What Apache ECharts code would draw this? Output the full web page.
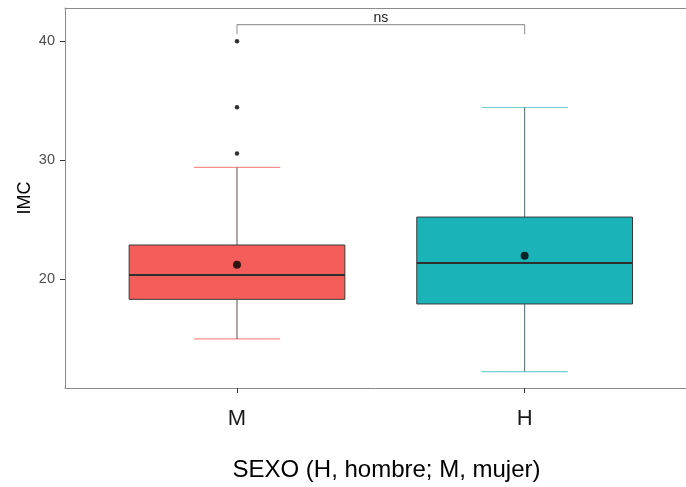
<!DOCTYPE html>
<html>
<head>
<meta charset="utf-8">
<script src="https://cdn.jsdelivr.net/npm/echarts@6/dist/echarts.min.js"></script>
<style>
html,body{margin:0;padding:0;background:#fff;}
#c{width:686px;height:487px;}
</style>
</head>
<body>
<div id="c"></div>
<script>
// ---- data ----
const categories = ['M', 'H'];
const xPos = [1, 2];
const whiskerLow = [14.96, 12.21];
const q1 = [18.29, 17.90];
const median = [20.34, 21.34];
const q3 = [22.86, 25.21];
const whiskerHigh = [29.39, 34.43];
const means = [21.2, 21.96];
const outlierX = [1, 1, 1];
const outlierY = [30.56, 34.45, 40.0];
const yTicks = [20, 30, 40];
const bracket = { x1: 1, x2: 2, y: 41.4, tip: 40.6, label: 'ns' };

// ---- styles ----
const fillColors = ['#F35E5A', '#1AB3B7'];
const capColors = ['#F4918E', '#6FD0D3'];
const whiskerColors = ['#6f5e5e', '#5d7575'];
const xMin = 0.402, xMax = 2.561;
const borderColor = '#8a8a8a';
const font = 'Liberation Sans, Arial, sans-serif';

const boxData = xPos.map((x, i) => [x, whiskerLow[i], q1[i], median[i], q3[i], whiskerHigh[i], i]);
const meanData = xPos.map((x, i) => [x, means[i]]);
const outlierData = outlierX.map((x, i) => [x, outlierY[i]]);
const bracketData = [[bracket.x1, bracket.tip], [bracket.x1, bracket.y], [bracket.x2, bracket.y], [bracket.x2, bracket.tip]];

function renderBox(params, api) {
  const x = api.value(0);
  const idx = api.value(6);
  const pLow = api.coord([x, api.value(1)]);
  const pQ1 = api.coord([x, api.value(2)]);
  const pMed = api.coord([x, api.value(3)]);
  const pQ3 = api.coord([x, api.value(4)]);
  const pHigh = api.coord([x, api.value(5)]);
  const bw = api.size([0.75, 0])[0];
  const cw = api.size([0.3, 0])[0];
  const cx = pMed[0];
  return {
    type: 'group',
    children: [
      { type: 'line', shape: { x1: cx - cw / 2, y1: pLow[1], x2: cx + cw / 2, y2: pLow[1] }, style: { stroke: capColors[idx], lineWidth: 1.2 } },
      { type: 'line', shape: { x1: cx - cw / 2, y1: pHigh[1], x2: cx + cw / 2, y2: pHigh[1] }, style: { stroke: capColors[idx], lineWidth: 1.2 } },
      { type: 'line', shape: { x1: cx, y1: pLow[1], x2: cx, y2: pQ1[1] }, style: { stroke: whiskerColors[idx], lineWidth: 1.1 } },
      { type: 'line', shape: { x1: cx, y1: pQ3[1], x2: cx, y2: pHigh[1] }, style: { stroke: whiskerColors[idx], lineWidth: 1.1 } },
      { type: 'rect', shape: { x: cx - bw / 2, y: pQ3[1], width: bw, height: pQ1[1] - pQ3[1] }, style: { fill: fillColors[idx], stroke: '#3a3a3a', lineWidth: 1 } },
      { type: 'line', shape: { x1: cx - bw / 2, y1: pMed[1], x2: cx + bw / 2, y2: pMed[1] }, style: { stroke: '#2f2f2f', lineWidth: 2 } }
    ]
  };
}

const chart = echarts.init(document.getElementById('c'), null, { renderer: 'canvas' });
chart.setOption({
  animation: false,
  backgroundColor: '#fff',
  textStyle: { fontFamily: font },
  grid: { left: 65, top: 8, right: 0, bottom: 99, show: false },
  xAxis: [{
    type: 'value', min: xMin, max: xMax,
    splitLine: { show: false },
    axisLine: { show: true, lineStyle: { color: borderColor, width: 1 } },
    axisTick: { show: true, customValues: xPos, length: 5, lineStyle: { color: '#333' } },
    axisLabel: {
      customValues: xPos, margin: 20,
      formatter: v => categories[xPos.indexOf(v)] || '',
      color: '#1a1a1a', fontSize: 22, fontFamily: font
    },
    name: 'SEXO (H, hombre; M, mujer)',
    nameLocation: 'middle', nameGap: 70, nameMoveOverlap: false,
    nameTextStyle: { color: '#000', fontSize: 24, fontFamily: font, padding: [0, 0, 0, 22] }
  }, {
    type: 'value', min: xMin, max: xMax, position: 'top',
    splitLine: { show: false },
    axisLine: { show: true, lineStyle: { color: borderColor, width: 1 } },
    axisTick: { show: false }, axisLabel: { show: false }
  }],
  yAxis: {
    type: 'value', min: 10.83, max: 42.8,
    splitLine: { show: false },
    axisLine: { show: true, lineStyle: { color: borderColor, width: 1 } },
    axisTick: { show: true, customValues: yTicks, length: 5, lineStyle: { color: '#333' } },
    axisLabel: {
      customValues: yTicks, margin: 10,
      color: '#4d4d4d', fontSize: 14.5, fontFamily: font
    },
    name: 'IMC',
    nameLocation: 'middle', nameGap: 31, nameRotate: 90, nameMoveOverlap: false,
    nameTextStyle: { color: '#000', fontSize: 18, fontFamily: font }
  },
  series: [
    {
      type: 'custom', renderItem: renderBox, data: boxData,
      encode: { x: 0, y: [1, 2, 3, 4, 5] }, z: 2
    },
    {
      type: 'scatter', data: meanData, symbol: 'circle', symbolSize: 8,
      itemStyle: { color: '#000' }, z: 5
    },
    {
      type: 'scatter', data: outlierData, symbol: 'circle', symbolSize: 4.5,
      itemStyle: { color: '#000' }, z: 5
    },
    {
      type: 'line', data: bracketData, symbol: 'none',
      lineStyle: { color: '#999', width: 1.1 }, z: 3,
      markPoint: {
        symbol: 'circle', symbolSize: 0,
        data: [{ coord: [(bracket.x1 + bracket.x2) / 2, bracket.y] }],
        label: {
          show: true, formatter: bracket.label, position: 'top', distance: -1,
          color: '#1a1a1a', fontSize: 14, fontFamily: font
        }
      }
    }
  ]
});
</script>
</body>
</html>
